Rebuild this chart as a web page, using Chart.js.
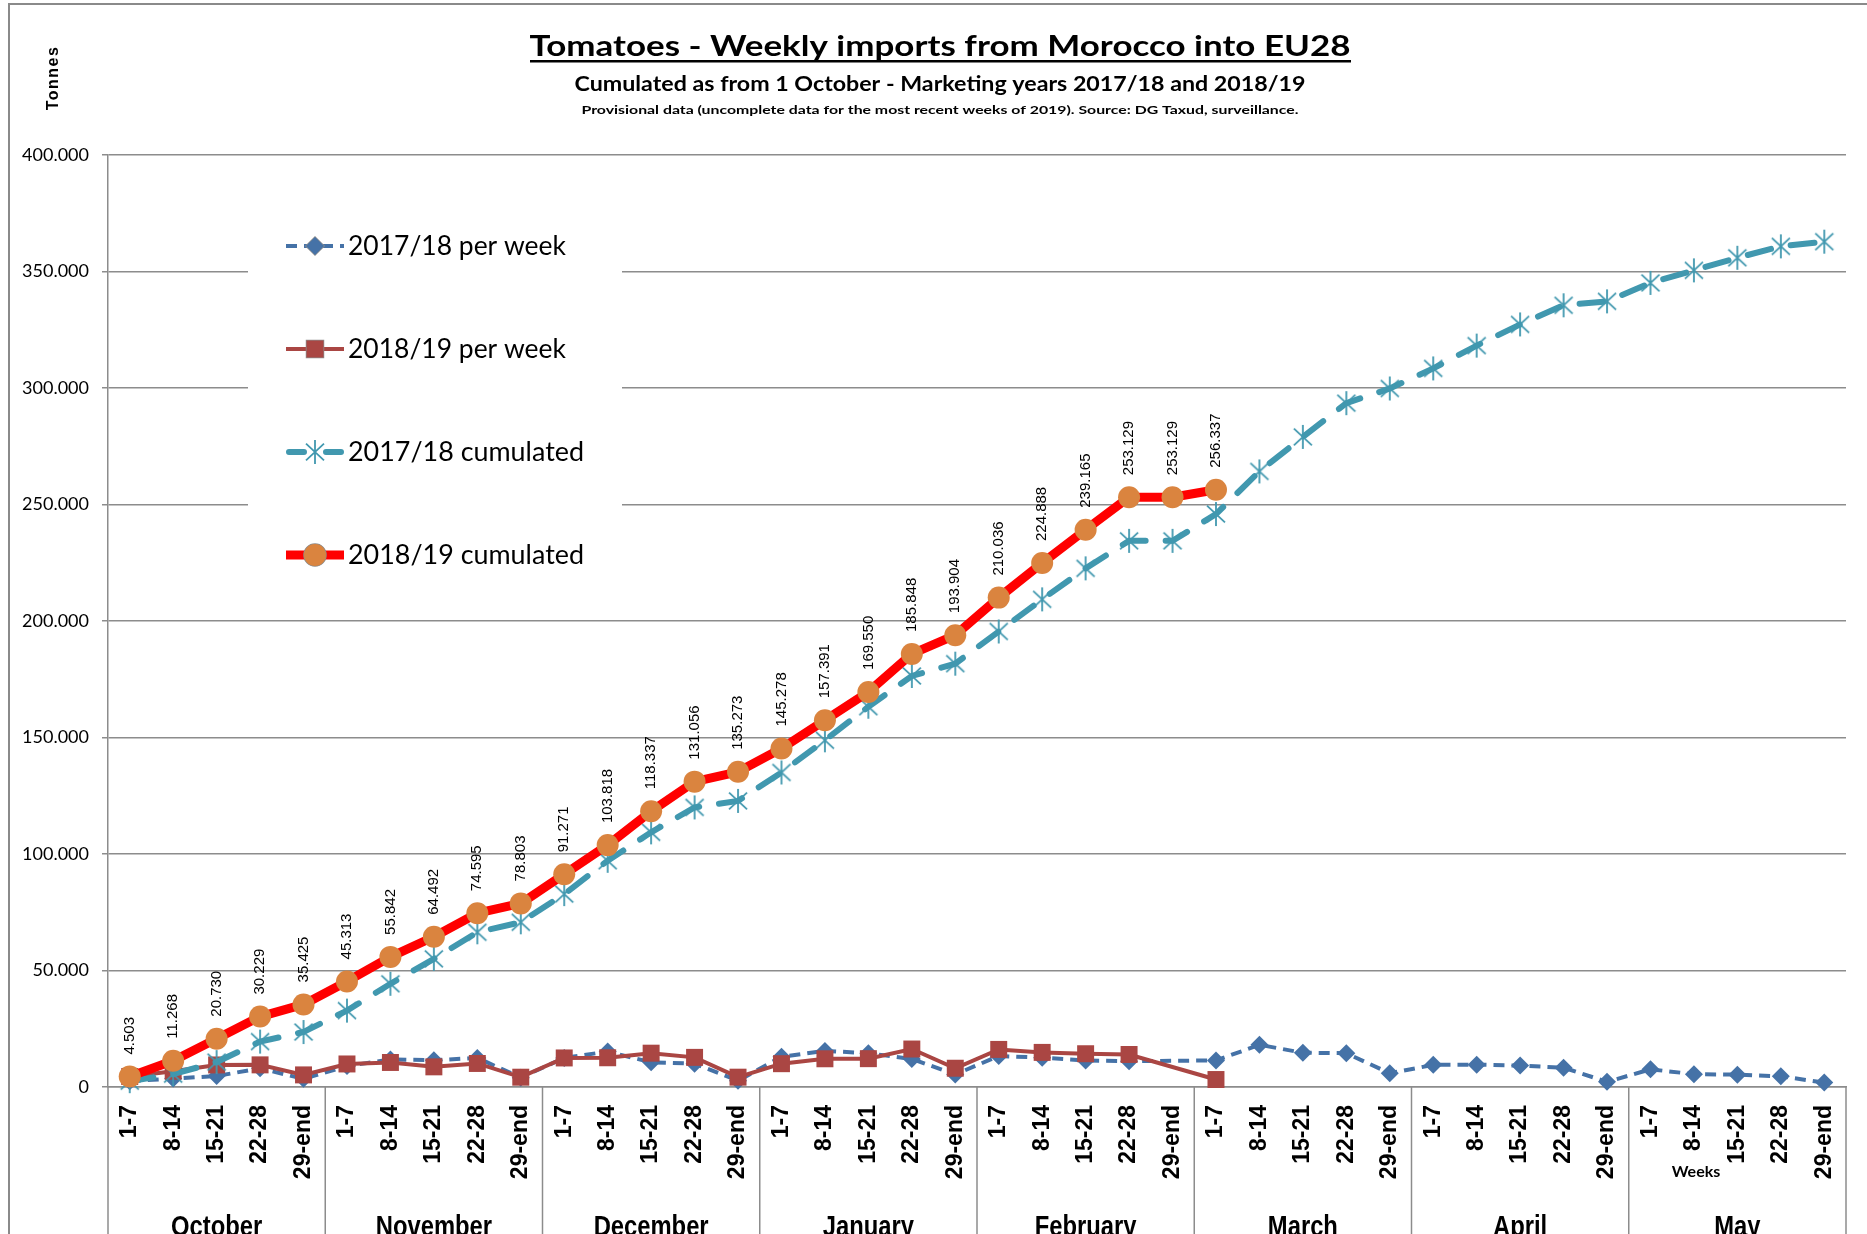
<!DOCTYPE html>
<html>
<head>
<meta charset="utf-8">
<title>Tomatoes - Weekly imports from Morocco into EU28</title>
<script src="https://cdn.jsdelivr.net/npm/chart.js@4.4.0/dist/chart.umd.min.js"></script>
<style>
    html, body { margin: 0; padding: 0; background: #fff; }
    #wrap { width: 1867px; height: 1234px; }
</style>
</head>
<body>
<div id="wrap"><canvas id="chart" width="1867" height="1234"></canvas></div>
<script>
// ---- data ----
const months = ['October', 'November', 'December', 'January', 'February', 'March', 'April', 'May'];
const weeks = ['1-7', '8-14', '15-21', '22-28', '29-end'];

const perWeek1718 = [
    2500, 3600, 4700, 8000, 3500,
    9000, 11800, 11500, 12500, 4000,
    12500, 15200, 10600, 10000, 2700,
    13000, 15500, 14500, 12000, 5400,
    13300, 12600, 11400, 11100, null,
    11400, 18100, 14700, 14500, 5900,
    9500, 9600, 9200, 8300, 2200,
    7600, 5500, 5300, 4600, 1900
];

const perWeek1819 = [
    4503, 6765, 9462, 9499, 5196,
    9888, 10529, 8650, 10103, 4208,
    12468, 12547, 14519, 12719, 4217,
    10005, 12113, 12159, 16298, 8056,
    16132, 14852, 14277, 13964, null,
    3208, null, null, null, null,
    null, null, null, null, null,
    null, null, null, null, null
];

const cum1718 = [
    2500, 5500, 10700, 19500, 23600,
    32800, 44300, 55000, 66400, 70700,
    82800, 97100, 109300, 120000, 122800,
    135000, 148800, 163200, 176400, 181700,
    195500, 209300, 222600, 234400, 234400,
    245900, 264200, 279000, 293500, 299800,
    308400, 318200, 327300, 335500, 337200,
    345100, 350500, 355900, 360800, 362800
];

const cum1819 = [
    4503, 11268, 20730, 30229, 35425,
    45313, 55842, 64492, 74595, 78803,
    91271, 103818, 118337, 131056, 135273,
    145278, 157391, 169550, 185848, 193904,
    210036, 224888, 239165, 253129, 253129,
    256337, null, null, null, null,
    null, null, null, null, null,
    null, null, null, null, null
];

const yTicks = [0, 50000, 100000, 150000, 200000, 250000, 300000, 350000, 400000];

const categories = [];
months.forEach(m => weeks.forEach(w => categories.push(m + ' ' + w)));

const GRID = '#8c8c8c';

function fmtThousands(v) {
    return String(Math.round(v)).replace(/\B(?=(\d{3})+(?!\d))/g, '.');
}

// Excel-like star marker (X plus vertical bar)
function makeStar(size, color) {
    const c = document.createElement('canvas');
    c.width = size;
    c.height = size;
    const g = c.getContext('2d');
    const m = size / 2, r = size / 2 - 1;
    g.strokeStyle = color;
    g.lineWidth = 1.8;
    g.beginPath();
    g.moveTo(m - r * 0.75, m - r * 0.7); g.lineTo(m + r * 0.75, m + r * 0.7);
    g.moveTo(m + r * 0.75, m - r * 0.7); g.lineTo(m - r * 0.75, m + r * 0.7);
    g.moveTo(m, m - r); g.lineTo(m, m + r);
    g.stroke();
    return c;
}
const starImg = makeStar(26, '#4198af');

// draw text squeezed/stretched to a given width (Calibri look-alike)
function fitText(ctx, text, cx, y, width) {
    const w = ctx.measureText(text).width;
    ctx.save();
    ctx.translate(cx, y);
    ctx.scale(width / w, 1);
    ctx.textAlign = 'center';
    ctx.fillText(text, 0, 0);
    ctx.restore();
}

const decor = {
    id: 'decor',
    beforeDraw(chart) {
        const ctx = chart.ctx;
        ctx.save();
        ctx.fillStyle = '#fff';
        ctx.fillRect(0, 0, chart.width, chart.height);
        // outer frame
        ctx.strokeStyle = '#8a8a8a';
        ctx.lineWidth = 2;
        ctx.beginPath();
        ctx.moveTo(9, chart.height);
        ctx.lineTo(9, 4);
        ctx.lineTo(chart.width, 4);
        ctx.stroke();

        ctx.fillStyle = '#000';
        ctx.textBaseline = 'alphabetic';
        ctx.font = 'bold 29px Lato';
        fitText(ctx, 'Tomatoes - Weekly imports from Morocco into EU28', 940, 56, 821);
        ctx.fillRect(530, 60, 821, 2.5);
        ctx.font = 'bold 20px Lato';
        fitText(ctx, 'Cumulated as from 1 October - Marketing years 2017/18 and 2018/19', 940, 91, 731);
        ctx.font = 'bold 12px Lato';
        fitText(ctx, 'Provisional data (uncomplete data for the most recent weeks of 2019). Source: DG Taxud, surveillance.', 940, 114, 717);

        // y axis title
        ctx.save();
        ctx.translate(58, 78);
        ctx.rotate(-Math.PI / 2);
        ctx.font = 'bold 16px "Liberation Sans"';
        ctx.letterSpacing = '1.5px';
        ctx.textAlign = 'center';
        ctx.fillText('Tonnes', 0, 0);
        ctx.restore();
        ctx.restore();
    },
    afterDatasetsDraw(chart) {
        const ctx = chart.ctx;
        const meta = chart.getDatasetMeta(3);
        ctx.save();
        ctx.fillStyle = '#000';
        ctx.font = '15px "Liberation Sans"';
        ctx.textAlign = 'left';
        ctx.textBaseline = 'middle';
        meta.data.forEach((pt, i) => {
            const v = cum1819[i];
            if (v === null) return;
            ctx.save();
            ctx.translate(pt.x, pt.y - 22);
            ctx.rotate(-Math.PI / 2);
            ctx.fillText(fmtThousands(v), 0, 0);
            ctx.restore();
        });
        ctx.restore();
    },
    afterDraw(chart) {
        const ctx = chart.ctx;
        const xs = chart.scales.x;
        const area = chart.chartArea;
        const step = xs.getPixelForValue(1) - xs.getPixelForValue(0);
        ctx.save();
        // month separators below the axis
        ctx.strokeStyle = GRID;
        ctx.lineWidth = 1.5;
        for (let m = 0; m <= months.length; m++) {
            const x = xs.getPixelForValue(m * 5) - step / 2;
            ctx.beginPath();
            ctx.moveTo(x, area.bottom);
            ctx.lineTo(x, chart.height);
            ctx.stroke();
        }
        // month names
        ctx.fillStyle = '#000';
        ctx.font = 'bold 29px "Liberation Sans"';
        months.forEach((name, m) => {
            const cx = xs.getPixelForValue(m * 5 + 2);
            ctx.save();
            ctx.translate(cx, 1236);
            ctx.scale(0.82, 1);
            ctx.textAlign = 'center';
            ctx.fillText(name, 0, 0);
            ctx.restore();
        });
        ctx.font = 'bold 16px Lato';
        ctx.textAlign = 'center';
        ctx.fillText('Weeks', 1696, 1177);

        // legend box inside the plot
        ctx.fillStyle = '#fff';
        ctx.fillRect(248, 195, 374, 405);
        const ds = chart.data.datasets;
        const rows = [246, 349, 452, 555];
        const x0 = 286, x1 = 344, xm = 315;
        [0, 1, 2, 3].forEach((di, r) => {
            const d = ds[di];
            const y = rows[r];
            ctx.save();
            ctx.strokeStyle = d.borderColor;
            ctx.lineWidth = d.borderWidth;
            ctx.lineCap = d.borderCapStyle || 'butt';
            if (di === 2) {
                ctx.beginPath();
                ctx.moveTo(x0 + 3, y); ctx.lineTo(x0 + 18, y);
                ctx.moveTo(x1 - 18, y); ctx.lineTo(x1 - 3, y);
                ctx.stroke();
            } else {
                ctx.setLineDash(d.borderDash || []);
                ctx.beginPath();
                ctx.moveTo(x0, y); ctx.lineTo(x1, y);
                ctx.stroke();
            }
            ctx.restore();
            if (di === 2) {
                ctx.drawImage(starImg, xm - 13, y - 13);
            } else {
                Chart.helpers.drawPoint(ctx, {
                    pointStyle: d.pointStyle,
                    radius: d.pointRadius,
                    borderWidth: 1
                }, xm, y);
                ctx.fillStyle = d.pointBackgroundColor;
                ctx.fill();
            }
            ctx.fillStyle = '#000';
            ctx.font = '26px Lato';
            ctx.textAlign = 'left';
            ctx.textBaseline = 'middle';
            const tw = ctx.measureText(d.label).width;
            const target = di < 2 ? 218 : 236;
            ctx.save();
            ctx.translate(348, y + 1);
            ctx.scale(target / tw, 1);
            ctx.fillText(d.label, 0, 0);
            ctx.restore();
        });
        ctx.restore();
    }
};

const ctx = document.getElementById('chart').getContext('2d');
const chart = new Chart(ctx, {
    type: 'line',
    data: {
        labels: categories,
        datasets: [{
            label: '2017/18 per week',
            data: perWeek1718,
            borderColor: '#4572a7',
            backgroundColor: '#4572a7',
            borderWidth: 4,
            borderDash: [11, 7],
            pointStyle: 'rectRot',
            pointRadius: 9,
            pointBackgroundColor: '#4572a7',
            pointBorderColor: '#4572a7',
            pointBorderWidth: 0,
            spanGaps: true,
            order: 4
        }, {
            label: '2018/19 per week',
            data: perWeek1819,
            borderColor: '#aa4643',
            backgroundColor: '#aa4643',
            borderWidth: 4,
            pointStyle: 'rect',
            pointRadius: 12,
            pointBackgroundColor: '#aa4643',
            pointBorderColor: '#aa4643',
            pointBorderWidth: 0,
            spanGaps: true,
            order: 3
        }, {
            label: '2017/18 cumulated',
            data: cum1718,
            borderColor: '#4198af',
            backgroundColor: '#4198af',
            borderWidth: 6,
            borderDash: [24, 20],
            borderCapStyle: 'round',
            pointStyle: starImg,
            pointRadius: 13,
            spanGaps: true,
            order: 2
        }, {
            label: '2018/19 cumulated',
            data: cum1819,
            borderColor: '#ff0000',
            backgroundColor: '#ff0000',
            borderWidth: 9,
            borderJoinStyle: 'round',
            pointStyle: 'circle',
            pointRadius: 11,
            pointBackgroundColor: '#da843f',
            pointBorderColor: '#da843f',
            pointBorderWidth: 0,
            order: 1
        }]
    },
    options: {
        responsive: false,
        animation: false,
        maintainAspectRatio: false,
        clip: false,
        elements: {
            line: { tension: 0 }
        },
        layout: {
            padding: { top: 155, right: 21, bottom: 0, left: 0 }
        },
        scales: {
            x: {
                type: 'category',
                offset: true,
                grid: { display: false, drawTicks: false },
                border: { display: true, color: GRID, width: 1.5 },
                ticks: {
                    autoSkip: false,
                    minRotation: 90,
                    maxRotation: 90,
                    padding: 18,
                    color: '#000',
                    font: { family: 'Liberation Sans', size: 23, weight: 'bold' },
                    callback: (val, i) => weeks[i % 5]
                },
                afterFit(scale) {
                    scale.height = 147;
                    scale.paddingLeft = 0;
                    scale.paddingRight = 0;
                }
            },
            y: {
                min: 0,
                max: 400000,
                afterBuildTicks(scale) { scale.ticks = yTicks.map(v => ({ value: v })); },
                grid: { color: GRID, lineWidth: 1.5, tickLength: 6 },
                border: { color: GRID, width: 1.5 },
                ticks: {
                    padding: 13,
                    color: '#000',
                    font: { family: 'Lato', size: 18 },
                    callback: v => fmtThousands(v)
                },
                afterFit(scale) { scale.width = 108; }
            }
        },
        plugins: {
            legend: { display: false },
            title: { display: false },
            tooltip: { enabled: false }
        }
    },
    plugins: [decor]
});
</script>
</body>
</html>
